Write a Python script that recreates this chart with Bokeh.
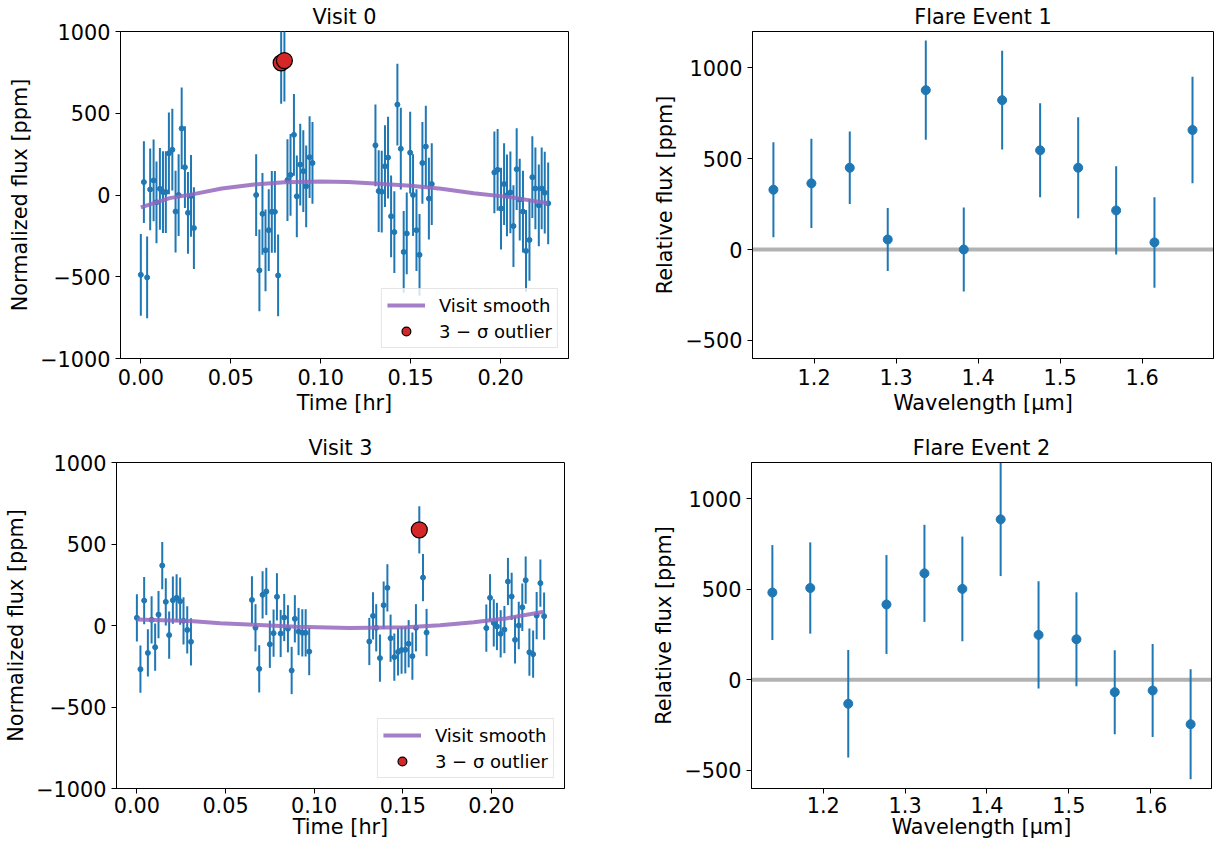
from bokeh.plotting import figure
from bokeh.layouts import row, column
from bokeh.models import Range1d, FixedTicker, CustomJSTickFormatter, Legend, Span
from bokeh.embed import file_html
from bokeh.resources import INLINE

FONT = "DejaVu Sans"
BLUE = "#1f77b4"
RED = "#d62728"
PURPLE = "#9467bd"
FS = "20.8px"

# ---------------- Visit 0 ----------------
v0_time = [0.0000, 0.0017, 0.0035, 0.0052, 0.0071, 0.0087, 0.0106, 0.0123, 0.0139, 0.0156,
           0.0175, 0.0193, 0.0210, 0.0227, 0.0245, 0.0262, 0.0279, 0.0295,
           0.0641, 0.0659, 0.0676, 0.0693, 0.0711, 0.0728, 0.0745, 0.0763, 0.0780, 0.0798,
           0.0815, 0.0832, 0.0851, 0.0867, 0.0886, 0.0903, 0.0919, 0.0938, 0.0954,
           0.1304, 0.1322, 0.1339, 0.1357, 0.1374, 0.1391, 0.1409, 0.1426, 0.1445, 0.1461,
           0.1478, 0.1497, 0.1513, 0.1532, 0.1549, 0.1565, 0.1584, 0.1601, 0.1617,
           0.1965, 0.1983, 0.2002, 0.2019, 0.2035, 0.2054, 0.2071, 0.2089, 0.2106, 0.2124,
           0.2141, 0.2160, 0.2176, 0.2193, 0.2212, 0.2228, 0.2245, 0.2264]
v0_flux = [-488, 79, -504, 34, 89, -45, 38, 18, 18, 255,
           277, -101, 0, 407, 170, -109, -6, -202,
           0, -461, -115, -338, -215, -103, -103, -492, 808, 822,
           91, 123, 368, -8, 186, 146, 53, 231, 196,
           304, 24, 20, 176, 229, -130, -227, 553, 283, -348,
           -235, 259, 0, -215, -366, 196, 296, -22, 67,
           138, 154, -83, 67, -2, 16, -190, 158, -28, -101,
           -342, -275, 109, 40, -63, 40, 14, -51]
v0_err = [250] * len(v0_time)
v0_outliers = [26, 27]
v0_smooth_time = [0.0, 0.016, 0.03, 0.045, 0.063, 0.08, 0.10, 0.115, 0.13, 0.15, 0.167, 0.185, 0.205, 0.2264]
v0_smooth_flux = [-76, -19, 7, 40, 64, 78, 82, 79, 70, 56, 38, 11, -13, -50]

# ---------------- Visit 3 ----------------
v3_time = [0.0000, 0.0020, 0.0041, 0.0062, 0.0083, 0.0103, 0.0122, 0.0143, 0.0163, 0.0182,
           0.0203, 0.0224, 0.0244, 0.0263, 0.0284, 0.0305,
           0.0649, 0.0669, 0.0690, 0.0709, 0.0730, 0.0750, 0.0771, 0.0790, 0.0811, 0.0831,
           0.0852, 0.0873, 0.0891, 0.0912, 0.0933, 0.0952, 0.0972,
           0.1311, 0.1332, 0.1350, 0.1371, 0.1392, 0.1413, 0.1431, 0.1452, 0.1473, 0.1493,
           0.1514, 0.1533, 0.1554, 0.1574, 0.1593, 0.1614, 0.1634,
           0.1971, 0.1992, 0.2013, 0.2031, 0.2052, 0.2073, 0.2093, 0.2114, 0.2133, 0.2154,
           0.2174, 0.2193, 0.2214, 0.2235, 0.2255, 0.2276, 0.2297]
v3_flux = [47, -268, 153, -168, 35, -133, 67, 368, 145, -59,
           155, 170, 149, 29, -27, -100,
           157, -14, -266, 188, 209, -115, -47, 176, -49, 49,
           -20, -276, 41, -37, -45, -45, -160,
           -98, 59, -14, -200, 125, 231, -78, -194, -162, -151,
           -149, -112, -188, -14, 587, 294, -43,
           -16, 170, 16, -6, -51, -25, 270, 178, -88, 0,
           112, 278, -164, -176, 61, 260, 57]
v3_err = [145] * len(v3_time)
v3_outliers = [47]
v3_smooth_time = [0.0, 0.03, 0.047, 0.066, 0.09, 0.12, 0.152, 0.171, 0.19, 0.209, 0.2297]
v3_smooth_flux = [37, 27, 14, 4, -8, -16, -10, 2, 20, 45, 84]

# ---------------- Flare events ----------------
f1_wave = [1.1504, 1.1967, 1.2435, 1.2898, 1.3362, 1.3825, 1.4293, 1.4756, 1.5220, 1.5683, 1.6150, 1.6614]
f1_flux = [329, 364, 450, 55, 877, 0, 822, 546, 450, 215, 39, 658]
f1_err = [262, 245, 200, 173, 273, 231, 272, 259, 278, 243, 249, 293]

f2_wave = [1.1378, 1.1841, 1.2305, 1.2772, 1.3236, 1.3699, 1.4167, 1.4630, 1.5093, 1.5561, 1.6024, 1.6488]
f2_flux = [482, 507, -132, 416, 588, 502, 886, 248, 224, -68, -59, -245]
f2_err = [262, 252, 297, 273, 268, 289, 313, 296, 259, 232, 257, 304]

lc_xticks = [0.0, 0.05, 0.10, 0.15, 0.20]
lc_yticks = [-1000, -500, 0, 500, 1000]
sp_xticks = [1.2, 1.3, 1.4, 1.5, 1.6]
sp_yticks = [-500, 0, 500, 1000]

YFMT = "return (tick < 0 ? '\u2212' : '') + Math.abs(tick).toFixed(0);"


def style(p, xticks, xdec, yticks, xlabel, ylabel, xstand, xlabstand, ylabstand):
    p.xaxis.ticker = FixedTicker(ticks=xticks)
    p.yaxis.ticker = FixedTicker(ticks=yticks)
    p.xaxis.formatter = CustomJSTickFormatter(code="return tick.toFixed(%d);" % xdec)
    p.yaxis.formatter = CustomJSTickFormatter(code=YFMT)
    p.xaxis.axis_label = xlabel
    p.yaxis.axis_label = ylabel
    for ax in p.axis:
        ax.axis_label_text_font = FONT
        ax.axis_label_text_font_size = FS
        ax.axis_label_text_font_style = "normal"
        ax.axis_label_text_color = "black"
        ax.major_label_text_font = FONT
        ax.major_label_text_font_size = FS
        ax.major_label_text_color = "black"
        ax.major_tick_out = 5
        ax.major_tick_in = 0
        ax.minor_tick_out = 0
        ax.minor_tick_in = 0
        ax.axis_line_color = "black"
        ax.major_tick_line_color = "black"
        ax.axis_line_width = 1
    p.xaxis.major_label_standoff = xstand
    p.xaxis.axis_label_standoff = xlabstand
    p.yaxis.major_label_standoff = 5
    p.yaxis.axis_label_standoff = ylabstand
    p.xgrid.visible = False
    p.ygrid.visible = False
    p.outline_line_color = "black"
    p.outline_line_width = 1
    p.title.text_font = FONT
    p.title.text_font_size = FS
    p.title.text_font_style = "normal"
    p.title.text_color = "black"
    p.title.align = "center"
    p.title.vertical_align = "top"
    p.title.standoff = 2


def make_fig(title, xr, yr, w, h, bl, br, bt, bb):
    p = figure(width=w, height=h, x_range=Range1d(*xr), y_range=Range1d(*yr),
               output_backend="svg", toolbar_location=None, title=title,
               min_border_left=bl, min_border_right=br, min_border_top=bt, min_border_bottom=bb)
    p.background_fill_color = "white"
    p.border_fill_color = "white"
    return p


def lc_panel(title, t, f, e, outl, st, sf, xr, w, h, bl, br, bt, bb, xstand, xlabstand, ylabstand):
    p = make_fig(title, xr, (-1000, 1000), w, h, bl, br, bt, bb)
    lo = [a - b for a, b in zip(f, e)]
    hi = [a + b for a, b in zip(f, e)]
    p.segment(x0=t, y0=lo, x1=t, y1=hi, line_color=BLUE, line_width=2)
    p.scatter(t, f, size=5, fill_color=BLUE, line_color=BLUE)
    r_line = p.line(st, sf, line_color=PURPLE, line_width=4, line_alpha=0.85)
    r_out = p.scatter([t[i] for i in outl], [f[i] for i in outl], size=16,
                      fill_color=RED, line_color="black", line_width=1.2)
    leg = Legend(items=[("Visit smooth", [r_line]), ("3 \u2212 \u03c3 outlier", [r_out])],
                 location="bottom_right", margin=10, padding=5, spacing=4,
                 glyph_width=38, glyph_height=22, label_height=21, label_standoff=14,
                 label_text_font=FONT, label_text_font_size="18px", label_text_color="black",
                 border_line_color="#cccccc", border_line_width=1,
                 background_fill_color="white", background_fill_alpha=0.8)
    p.add_layout(leg)
    style(p, lc_xticks, 2, lc_yticks, "Time [hr]", "Normalized flux [ppm]", xstand, xlabstand, ylabstand)
    return p


def sp_panel(title, wv, f, e, xr, w, h, bl, br, bt, bb, xstand, xlabstand, ylabstand):
    p = make_fig(title, xr, (-600, 1200), w, h, bl, br, bt, bb)
    p.add_layout(Span(location=0, dimension="width", line_color="black",
                      line_alpha=0.3, line_width=4, level="underlay"))
    lo = [a - b for a, b in zip(f, e)]
    hi = [a + b for a, b in zip(f, e)]
    p.segment(x0=wv, y0=lo, x1=wv, y1=hi, line_color=BLUE, line_width=2)
    p.scatter(wv, f, size=9, fill_color=BLUE, line_color=BLUE)
    style(p, sp_xticks, 1, sp_yticks, "Wavelength [\u03bcm]", "Relative flux [ppm]", xstand, xlabstand, ylabstand)
    return p


tl = lc_panel("Visit 0", v0_time, v0_flux, v0_err, v0_outliers, v0_smooth_time, v0_smooth_flux,
              (-0.0113, 0.2377), 588, 430, 120, 20, 30, 72, 5, 3, 5)
tr = sp_panel("Flare Event 1", f1_wave, f1_flux, f1_err, (1.1249, 1.6870),
              631, 430, 164, 6, 31, 72, 5, 3, 5)
bl = lc_panel("Visit 3", v3_time, v3_flux, v3_err, v3_outliers, v3_smooth_time, v3_smooth_flux,
              (-0.0115, 0.2412), 588, 417, 116, 24, 31, 58, 3, -1, 5)
br = sp_panel("Flare Event 2", f2_wave, f2_flux, f2_err, (1.1123, 1.6743),
              631, 417, 163, 8, 32, 59, 3, -1, 5)

layout = column(row(tl, tr), row(bl, br))
open("out.html", "w").write(file_html(layout, INLINE))
